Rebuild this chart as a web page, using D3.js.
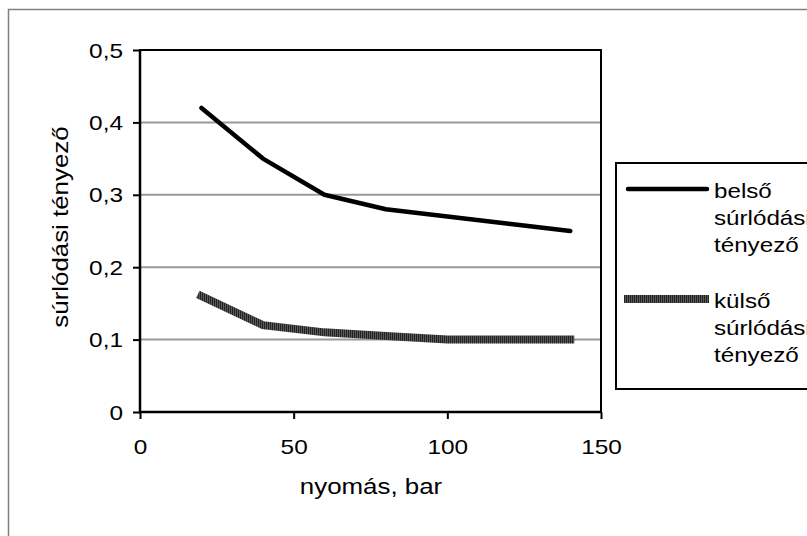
<!DOCTYPE html>
<html>
<head>
<meta charset="utf-8">
<script src="https://cdn.jsdelivr.net/npm/d3@7"></script>
<style>
  body { margin: 0; background: #fff; }
  text { font-family: "Liberation Sans", Arial, sans-serif; fill: #000; }
</style>
</head>
<body>
<div id="chart"></div>
<script>
// data
var pressure = [20, 40, 60, 80, 100, 120, 140];
var innerFriction = [0.42, 0.35, 0.30, 0.28, 0.27, 0.26, 0.25];
var outerFriction = [0.16, 0.12, 0.11, 0.105, 0.10, 0.10, 0.10];
var legendLabels = [["belső", "súrlódási", "tényező"], ["külső", "súrlódási", "tényező"]];
var xTicks = [0, 50, 100, 150];
var yTicks = [0, 0.1, 0.2, 0.3, 0.4, 0.5];

var margin = {top: 50, left: 140},
    width = 461,
    height = 362,
    sx = 1.15,     // text in the original is a bit wide
    tickSx = 1.22;

var svg = d3.select("#chart").append("svg")
    .attr("width", 807)
    .attr("height", 536);

// outer chart border (runs off the right/bottom edge)
svg.append("rect")
    .attr("x", 8.5).attr("y", 9.5)
    .attr("width", 830).attr("height", 560)
    .attr("fill", "none")
    .attr("stroke", "#808080")
    .attr("stroke-width", 1.5);

// striped stroke for the second series
var pat = svg.append("defs").append("pattern")
    .attr("id", "stripes")
    .attr("patternUnits", "userSpaceOnUse")
    .attr("width", 2).attr("height", 2);
pat.append("rect").attr("width", 1).attr("height", 2).attr("fill", "#222");
pat.append("rect").attr("x", 1).attr("width", 1).attr("height", 2).attr("fill", "#5a5a5a");

var g = svg.append("g")
    .attr("transform", "translate(" + margin.left + "," + margin.top + ")");

var x = d3.scaleLinear().domain([0, 150]).range([0, width]);
var y = d3.scaleLinear().domain([0, 0.5]).range([height, 0]);

var fmt = d3.formatLocale({decimal: ",", thousands: " ", grouping: [3], currency: ["", ""]}).format(".1~f");

// gridlines
g.selectAll(".grid")
    .data(yTicks.filter(function(d) { return d > 0 && d < 0.5; }))
  .enter().append("line")
    .attr("class", "grid")
    .attr("x1", 0).attr("x2", width)
    .attr("y1", function(d) { return y(d); })
    .attr("y2", function(d) { return y(d); })
    .attr("stroke", "#999")
    .attr("stroke-width", 2);

// plot frame
g.append("rect")
    .attr("width", width).attr("height", height)
    .attr("fill", "none")
    .attr("stroke", "#000")
    .attr("stroke-width", 2);

// y axis
var yAxis = g.append("g")
    .call(d3.axisLeft(y).tickValues(yTicks).tickSize(7).tickSizeOuter(0).tickFormat(fmt));
yAxis.select(".domain").remove();
yAxis.selectAll("line").attr("stroke", "#000").attr("stroke-width", 2);
yAxis.selectAll("text")
    .attr("font-size", 20)
    .attr("x", -17 / tickSx)
    .attr("dy", null)
    .attr("y", 7)
    .attr("transform", "scale(" + tickSx + ",1)");

// x axis
var xAxis = g.append("g")
    .attr("transform", "translate(0," + height + ")")
    .call(d3.axisBottom(x).tickValues(xTicks).tickSize(7).tickSizeOuter(0));
xAxis.select(".domain").remove();
xAxis.selectAll("line").attr("stroke", "#000").attr("stroke-width", 2);
xAxis.selectAll("text")
    .attr("font-size", 20)
    .attr("dy", null)
    .attr("y", 42)
    .attr("transform", "scale(" + tickSx + ",1)");

g.append("path").attr("d", "M0,0V" + height + "H" + width)
    .attr("fill", "none").attr("stroke", "#000").attr("stroke-width", 2.5);

// axis titles
svg.append("text")
    .attr("transform", "translate(371,494) scale(" + sx + ",1)")
    .attr("text-anchor", "middle")
    .attr("font-size", 22.5)
    .text("nyomás, bar");

svg.append("text")
    .attr("transform", "translate(68,227) rotate(-90) scale(" + sx + ",1)")
    .attr("text-anchor", "middle")
    .attr("font-size", 22.5)
    .text("súrlódási tényező");

// lines
var line = function(vals) {
  return d3.line()
      .x(function(d, i) { return x(pressure[i]); })
      .y(function(d) { return y(d); })(vals);
};

g.append("path")
    .attr("d", line(outerFriction))
    .attr("fill", "none")
    .attr("stroke", "url(#stripes)")
    .attr("stroke-width", 8)
    .attr("stroke-linecap", "square")
    .attr("stroke-linejoin", "miter");

g.append("path")
    .attr("d", line(innerFriction))
    .attr("fill", "none")
    .attr("stroke", "#000")
    .attr("stroke-width", 4.5)
    .attr("stroke-linecap", "round")
    .attr("stroke-linejoin", "round");

// legend
var legend = svg.append("g");
legend.append("rect")
    .attr("x", 616).attr("y", 163)
    .attr("width", 220).attr("height", 226)
    .attr("fill", "#fff")
    .attr("stroke", "#000")
    .attr("stroke-width", 2);

legend.append("line")
    .attr("x1", 628).attr("x2", 707)
    .attr("y1", 189).attr("y2", 189)
    .attr("stroke", "#000").attr("stroke-width", 4.5)
    .attr("stroke-linecap", "round");

legend.append("line")
    .attr("x1", 624).attr("x2", 709)
    .attr("y1", 299).attr("y2", 299)
    .attr("stroke", "url(#stripes)").attr("stroke-width", 8);

var legendTop = [198, 308];
legendLabels.forEach(function(lines, k) {
  lines.forEach(function(t, j) {
    legend.append("text")
        .attr("transform", "translate(714," + (legendTop[k] + j * 27) + ") scale(1.18,1)")
        .attr("font-size", 20.5)
        .text(t);
  });
});
</script>
</body>
</html>
